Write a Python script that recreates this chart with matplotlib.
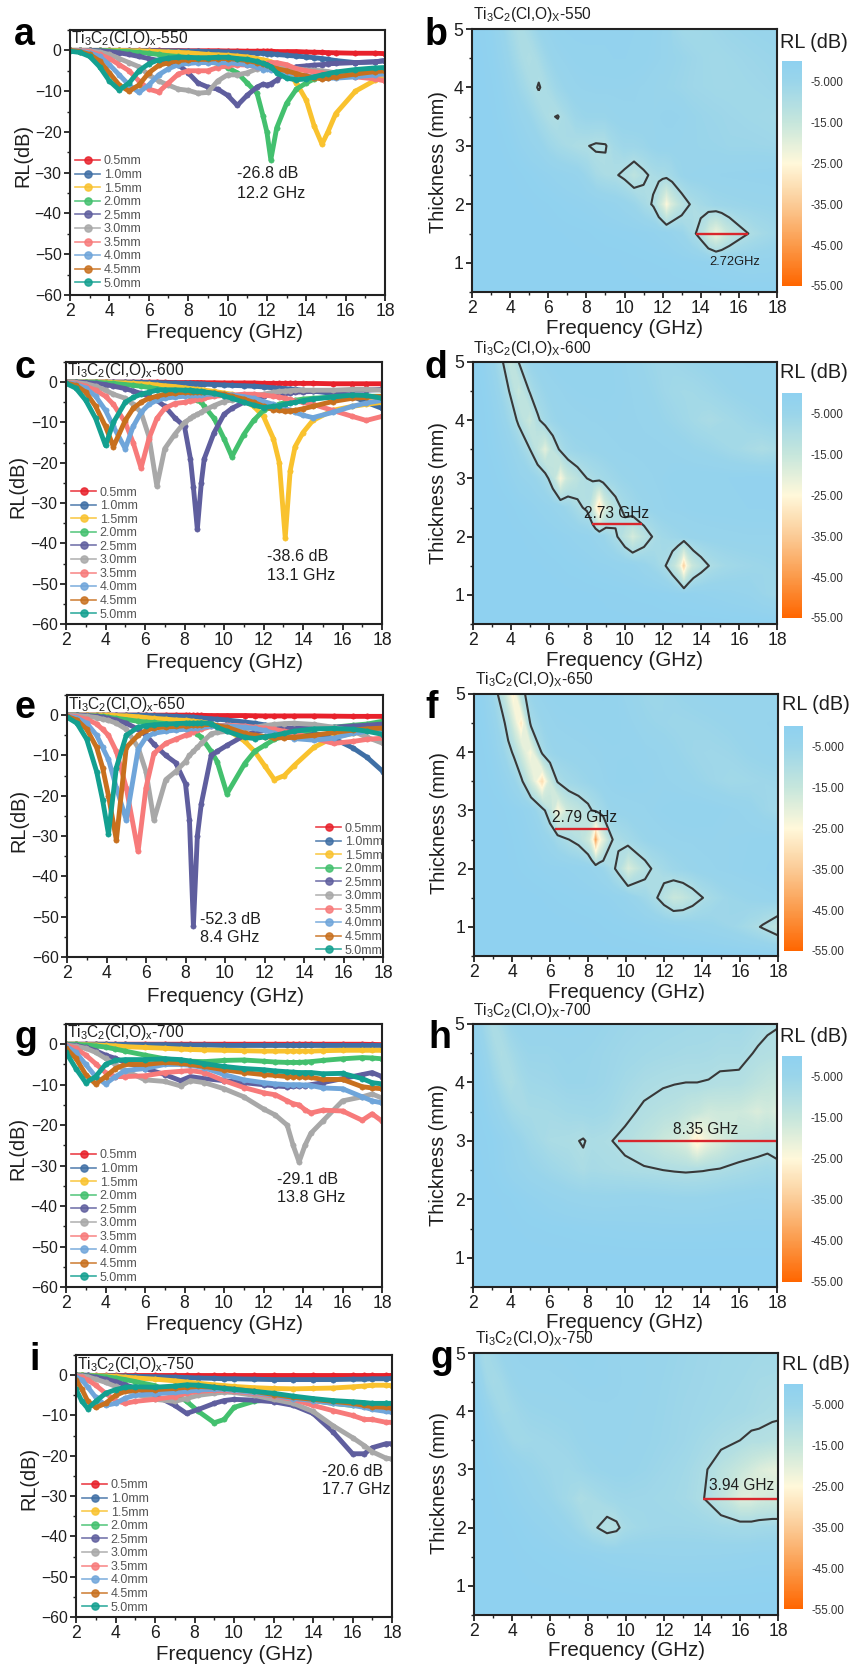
import matplotlib
matplotlib.use('Agg')
import matplotlib.pyplot as plt
import numpy as np
from matplotlib.colors import LinearSegmentedColormap, Normalize
from matplotlib.cm import ScalarMappable
from matplotlib.ticker import MultipleLocator

plt.rcParams['font.family'] = ['Liberation Sans', 'DejaVu Sans']
plt.rcParams['mathtext.fontset'] = 'custom'
plt.rcParams['mathtext.rm'] = 'Liberation Sans'
plt.rcParams['mathtext.default'] = 'regular'

W, H = 851, 1671

thickness = [0.5, 1.0, 1.5, 2.0, 2.5, 3.0, 3.5, 4.0, 4.5, 5.0]
thick_labels = ['0.5mm', '1.0mm', '1.5mm', '2.0mm', '2.5mm', '3.0mm', '3.5mm', '4.0mm', '4.5mm', '5.0mm']
colors = ['#E8212B', '#3F6FA5', '#F9C22E', '#43C06E', '#5F5E9E', '#A8A8A8', '#F77A7A', '#6FA5DA', '#C8701E', '#13A090']
cbar_ticks = [-5, -15, -25, -35, -45, -55]
cbar_labels = ['-5.000', '-15.00', '-25.00', '-35.00', '-45.00', '-55.00']

# 550 C, one row per thickness
freq_550 = [2,2.5,3,3.5,4,4.5,5,5.5,6,6.5,7,7.5,8,8.5,9,9.5,10,10.5,11,11.5,11.8,12,12.2,12.5,13,13.5,14,14.4,14.8,15.1,15.5,16.5,17.5,18]
rl_550 = [
    [0,0,0,0,0,0,0,0,0,0,-0.05,-0.05,-0.1,-0.1,-0.1,-0.1,-0.15,-0.15,-0.2,-0.2,-0.2,-0.2,-0.2,-0.3,-0.3,-0.3,-0.4,-0.45,-0.5,-0.55,-0.6,-0.7,-0.7,-0.8],
    [0,0,0,0,0,0,0,-0.05,-0.05,-0.1,-0.1,-0.15,-0.2,-0.2,-0.3,-0.3,-0.4,-0.5,-0.6,-0.7,-0.75,-0.8,-0.8,-1,-1.2,-1.4,-1.6,-1.8,-2,-2.2,-2.5,-3,-2.8,-2.5],
    [0,0,0,0,0,0,-0.1,-0.1,-0.2,-0.3,-0.4,-0.5,-0.6,-0.8,-1,-1.1,-1.2,-1.4,-1.6,-2,-2.3,-2.5,-2.8,-3.5,-5,-8,-12.2,-18.5,-23,-20,-15.5,-10,-7.3,-6.3],
    [0,0,0,0,-0.1,-0.2,-0.3,-0.5,-0.7,-1,-1.3,-1.5,-1.8,-2.2,-2.7,-3.2,-4.2,-5.5,-8,-10.5,-16,-20,-26.8,-19,-13,-9.5,-8,-7,-6,-5.8,-5.5,-5,-4.6,-4.5],
    [0,0,0,-0.1,-0.3,-0.6,-1,-1.5,-2,-2.5,-3,-3.5,-5.5,-8,-9,-9.5,-11,-13.5,-11,-9,-8.3,-8.5,-8.2,-7.3,-5,-4,-3.8,-3.6,-3.5,-3.3,-3.2,-3,-2.8,-2.5],
    [0,0,-0.1,-0.4,-1,-2,-3,-4,-6,-7.5,-8.5,-9.5,-9.8,-10.5,-10.3,-7.5,-6,-6,-5.5,-4.5,-4,-4,-4,-4,-4.3,-4.5,-4.8,-4.9,-5,-5.2,-5.5,-5.5,-5.8,-6],
    [0,-0.1,-0.3,-1,-2,-3.5,-5,-7.5,-9.5,-10.2,-8,-5.8,-5,-5,-5,-4.2,-3.8,-3.5,-3.6,-4,-3.5,-3.2,-3,-3,-3.5,-4.5,-5,-5.3,-5.5,-5.7,-6,-6.5,-7,-7.5],
    [0,-0.2,-0.6,-1.5,-3.5,-6,-8.5,-10.3,-8.5,-6,-4.5,-3.5,-3.2,-3,-3,-3,-3,-3.2,-3.5,-4,-4.7,-4.5,-4.8,-5,-5.5,-6,-6.3,-6.5,-6.8,-6.8,-6.8,-6.5,-6,-5.5],
    [0,-0.3,-1,-2.6,-5.5,-8.5,-10,-8.5,-5.5,-3.7,-3,-2.5,-2.3,-2.2,-2.2,-2,-2,-2.2,-2.5,-3,-3.3,-3.5,-4,-4.5,-5,-5.7,-6.3,-6.7,-7,-6.8,-6.5,-5.8,-5.2,-5],
    [-0.2,-0.5,-1.5,-4,-7.5,-9.7,-8,-5,-3.3,-2.3,-1.9,-1.7,-1.7,-1.8,-1.8,-1.7,-1.7,-2,-2.2,-2.7,-3.2,-3.5,-4,-5.5,-6.8,-7.2,-7,-6.5,-6,-5.7,-5.3,-4.7,-4.3,-4.2],
]

# 600 C
freq_600 = [2,2.5,3,3.5,4,4.4,5,5.4,5.8,6.2,6.6,7,7.5,8,8.3,8.45,8.65,8.85,9,9.5,10,10.4,11,11.5,12,12.5,12.8,13.1,13.35,13.6,14,14.5,15.5,16.5,17.2,18]
rl_600 = [
    [0,0,0,0,0,0,0,0,0,0,0,-0.05,-0.1,-0.1,-0.1,-0.1,-0.1,-0.1,-0.15,-0.15,-0.2,-0.2,-0.2,-0.2,-0.3,-0.3,-0.3,-0.3,-0.3,-0.3,-0.3,-0.3,-0.4,-0.4,-0.4,-0.4],
    [0,0,0,0,0,0,0,0,-0.05,-0.1,-0.1,-0.2,-0.2,-0.3,-0.3,-0.35,-0.4,-0.45,-0.5,-0.6,-0.7,-0.8,-0.9,-1,-1.2,-1.4,-1.5,-1.6,-1.7,-1.8,-2,-2.2,-2.8,-3.5,-5,-6.5],
    [0,0,0,0,0,-0.1,-0.2,-0.3,-0.4,-0.5,-0.7,-0.9,-1.1,-1.4,-1.6,-1.7,-1.8,-1.9,-2,-2.3,-2.7,-3,-4.5,-6,-8.5,-14,-20,-38.6,-22,-16,-12.5,-9.5,-7,-6,-5.5,-5],
    [0,0,0,0,-0.2,-0.3,-0.6,-0.8,-1,-1.3,-1.6,-2,-2.5,-3,-3.5,-3.9,-4.5,-5,-6,-9,-14,-18.5,-13,-9.5,-7,-6,-5.5,-5,-4.7,-4.5,-4.2,-4,-3.7,-3.5,-3.5,-3.5],
    [0,0,-0.1,-0.3,-0.6,-1,-1.6,-2.2,-2.8,-3.5,-4.5,-6,-8.8,-11,-19,-26,-36.5,-25,-19,-12.5,-8,-6.5,-5,-4.2,-3.5,-3,-2.9,-2.8,-2.6,-2.5,-2.4,-2.3,-2.2,-2,-2,-1.8],
    [0,-0.1,-0.4,-1,-2,-3,-4,-5.5,-7.5,-13.5,-25.8,-16.5,-13,-10,-9,-8.5,-8,-7.5,-7,-5.8,-4.8,-4.4,-3.8,-3.4,-3,-2.5,-2.3,-2.2,-2.1,-2,-2,-2,-2,-1.8,-1.8,-2],
    [0,-0.3,-1,-2,-3.5,-5.5,-10,-15,-21.3,-14,-9,-6.5,-5.3,-5,-4.6,-4.5,-4.3,-4.1,-4,-3.5,-3.3,-3.2,-3,-3,-3.2,-3.5,-3.7,-4,-4.3,-4.7,-5,-5.5,-7,-8.5,-9.5,-8.5],
    [-0.1,-0.5,-1.5,-3.5,-7,-11,-16.5,-11,-7.5,-5.5,-4.5,-4,-3.7,-3.5,-3.3,-3.3,-3.2,-3.1,-3,-3,-3,-3.2,-3.6,-4,-4.8,-5.5,-6,-6.5,-7,-7.5,-8.2,-8.8,-7.5,-6,-5.2,-4.5],
    [-0.2,-0.8,-2.5,-6,-11,-16,-9.5,-6.5,-5,-4,-3.5,-3,-2.7,-2.5,-2.5,-2.5,-2.5,-2.5,-2.5,-2.7,-3,-3.5,-4.2,-5,-6,-6.8,-7,-7.2,-7.1,-7,-6.6,-6,-4.8,-4,-3.8,-3.5],
    [-0.3,-1.5,-4.5,-9,-15.7,-10,-5,-3.8,-3,-2.5,-2,-1.9,-1.9,-2,-2,-2.1,-2.2,-2.3,-2.4,-2.8,-3.4,-4,-5,-5.7,-6.3,-6,-5.8,-5.5,-5.2,-5,-4.6,-4.2,-3.7,-3.2,-3.3,-4],
]

# 650 C
freq_650 = [2,2.5,3,3.5,3.8,4.1,4.5,5,5.6,6,6.4,7,7.5,8,8.2,8.4,8.6,8.8,9.3,9.6,10.1,11,11.5,12,12.5,13,13.5,14.5,15.5,16.5,17.2,18]
rl_650 = [
    [0,0,0,0,0,0,0,0,0,0,0,0,0,0,-0.05,-0.05,-0.05,-0.05,-0.1,-0.1,-0.1,-0.1,-0.15,-0.2,-0.2,-0.2,-0.2,-0.2,-0.25,-0.3,-0.3,-0.3],
    [0,0,0,0,0,0,0,0,0,-0.05,-0.1,-0.2,-0.3,-0.4,-0.45,-0.5,-0.6,-0.7,-0.9,-1,-1.2,-1.7,-2,-2.4,-2.8,-3.2,-3.6,-4.5,-5.8,-8.2,-10.5,-14],
    [0,0,0,0,0,0,-0.1,-0.2,-0.4,-0.6,-0.8,-1,-1.2,-1.3,-1.4,-1.5,-1.6,-1.7,-2.2,-2.6,-3.5,-6.5,-9,-12.5,-16,-15,-12.5,-8,-5.5,-4.5,-4,-3.5],
    [0,0,-0.1,-0.2,-0.3,-0.5,-0.8,-1.1,-1.5,-1.7,-1.8,-2.1,-2.5,-3.2,-3.6,-4,-4.7,-5.5,-9,-11.5,-19.5,-12,-9,-7.5,-6,-5.2,-4.5,-3.5,-3,-2.5,-2.2,-1.5],
    [0,0,-0.1,-0.3,-0.5,-0.8,-1.2,-2,-3.5,-5,-7.2,-10,-11.8,-17,-26,-52.3,-30,-22,-10,-9,-7.5,-5,-4.2,-3.8,-3.5,-3.3,-3.2,-3,-3,-2.7,-2.5,-2.2],
    [0,-0.1,-0.3,-0.6,-1,-1.3,-2,-3.5,-8,-14,-26,-16,-14,-11.5,-10,-9,-8,-7,-4.6,-4.3,-4,-3.5,-3,-2.6,-2.3,-2.1,-2,-2.3,-3,-4,-5.5,-7],
    [-0.1,-0.4,-1,-2.2,-3.5,-5,-9,-18,-33.8,-18,-9.5,-7,-6,-5,-4.6,-4.2,-3.8,-3.5,-2.8,-2.6,-2.5,-2.7,-3,-3.2,-3.5,-4,-4.5,-5.8,-7,-6.5,-6,-5.7],
    [-0.2,-0.7,-2,-5,-8,-11,-18,-26,-8.5,-5.5,-4.5,-4,-3.7,-3.5,-3.3,-3.2,-3.1,-3,-2.8,-2.7,-2.7,-3,-3.3,-3.8,-4.5,-5.2,-5.8,-6.2,-5.7,-4.5,-4,-3.5],
    [-0.3,-1.2,-3.5,-8,-13,-20,-31,-8,-5,-3.8,-3.2,-2.9,-2.8,-2.6,-2.5,-2.5,-2.45,-2.4,-2.3,-2.6,-3,-4.5,-5,-5.3,-5.6,-5.6,-5.5,-5,-4.3,-3.7,-3.4,-3.2],
    [-0.5,-2,-6,-14,-21,-29.5,-13,-5,-3,-2.6,-2.4,-2.2,-2.1,-2,-2,-2,-2,-1.9,-2.1,-3,-4,-5.5,-5.8,-5.4,-5,-4.5,-4,-3.4,-3.3,-3.5,-4,-4.8],
]

# 700 C
freq_700 = [2,2.5,3,3.5,4,4.5,5,6,7,7.8,8.3,9,10,11,12,12.6,13.2,13.5,13.8,14.1,14.4,15,16,17,17.5,18]
rl_700 = [
    [0,0,0,0,0,0,0,0,0,0,0,0,0,0,0,0,0,0,0,0,0,0,0,0,-0.05,-0.1],
    [0,0,0,0,0,-0.05,-0.05,-0.1,-0.1,-0.2,-0.2,-0.2,-0.3,-0.3,-0.3,-0.3,-0.3,-0.3,-0.3,-0.3,-0.3,-0.3,-0.3,-0.3,-0.3,-0.3],
    [0,0,-0.1,-0.2,-0.3,-0.4,-0.6,-0.8,-1,-1.2,-1.3,-1.4,-1.5,-1.6,-1.7,-1.7,-1.7,-1.7,-1.7,-1.7,-1.7,-1.6,-1.5,-1.5,-1.5,-1.5],
    [0,0,-0.2,-0.4,-0.7,-1.2,-1.7,-2.7,-3.6,-4,-4.2,-4.3,-4,-3.9,-4.2,-4.4,-4.5,-4.5,-4.5,-4.4,-4.3,-4,-3.6,-3.3,-3.4,-3.6],
    [-0.1,-0.3,-0.8,-1.6,-2.7,-3.5,-4.5,-6,-7.5,-9,-8,-8.5,-9,-9.5,-10,-10.3,-10.5,-10.4,-10.3,-10.2,-10,-9.5,-8.5,-7.5,-7,-8],
    [-0.2,-0.5,-1,-2,-3.5,-5,-6.5,-8.8,-9.2,-10.3,-9,-9.5,-11,-13,-16,-17.5,-20,-25,-29.1,-25,-22,-19,-14,-13,-12.3,-13.3],
    [-0.3,-1,-2.7,-4.8,-7,-8,-8,-7.8,-7,-6.7,-6.5,-7,-9,-10.7,-12,-12.5,-14,-14.7,-15,-16.2,-17,-16.3,-16.5,-18.8,-17.2,-19],
    [-0.5,-2,-5,-8,-9.8,-8,-6.5,-6,-5,-5,-5.2,-5.8,-7.5,-8.8,-9.5,-9.8,-10,-10,-10,-10.1,-10.2,-10.8,-11,-13,-14,-14.5],
    [-1,-3.5,-7.5,-9.8,-8,-6,-5,-5,-4.5,-4.7,-5,-5.5,-6.3,-7,-7.5,-7.7,-8,-8,-8,-8.1,-8.2,-8.7,-8.7,-10.5,-10.8,-11],
    [-2,-6,-9.5,-8,-5,-4,-3.8,-3.8,-3.6,-3.8,-4.2,-4.8,-5.5,-6,-6.3,-6.6,-6.8,-6.9,-7,-7,-7,-7.3,-7.2,-8.5,-9.5,-9.8],
]

# 750 C
freq_750 = [2,2.3,2.6,3,3.5,4,4.5,5,6,7,7.6,8.2,9,9.5,10,11,12,13,14,15,16,16.6,17,17.7,18]
rl_750 = [
    [0,0,0,0,0,0,0,0,0,0,0,0,0,0,0,0,0,0,0,0,0,0,0,0,0],
    [0,0,0,-0.1,-0.1,-0.2,-0.2,-0.3,-0.4,-0.5,-0.6,-0.7,-0.8,-0.9,-0.9,-1,-1.1,-1.1,-1.1,-1.1,-1,-1,-0.9,-0.9,-0.8],
    [0,0,-0.1,-0.1,-0.2,-0.3,-0.5,-0.7,-1,-1.4,-1.7,-2,-2.4,-2.6,-2.8,-3.1,-3.3,-3.4,-3.3,-3.2,-2.9,-2.7,-2.5,-2.5,-2.6],
    [0,0,-0.1,-0.2,-0.4,-0.7,-1.1,-1.6,-2.6,-4.6,-6.5,-9,-11.8,-11,-8,-6.5,-6,-6,-6.3,-7,-7.5,-7.5,-7.2,-7,-7],
    [0,-0.1,-0.2,-0.5,-1,-1.6,-2.4,-3.2,-5,-7.5,-9.5,-8.5,-7,-6.3,-6,-6.2,-6.6,-7.5,-9.5,-14,-19.5,-19.5,-18,-17,-17],
    [-0.1,-0.2,-0.4,-1,-1.8,-2.8,-3.8,-4.7,-6,-6.5,-5.8,-5,-4.5,-4.2,-4.3,-5,-6,-7,-9,-12.5,-15.5,-17.5,-19,-20.6,-20.8],
    [-0.2,-0.5,-1.2,-2.5,-4.5,-6.3,-7,-6.5,-6,-5.3,-4.5,-4,-3.8,-3.8,-4,-4.5,-5.2,-6,-7.5,-8.8,-10,-11,-11,-11.7,-11.7],
    [-0.5,-1.2,-3,-5.5,-7.5,-7,-5.7,-5,-4.6,-4.3,-4,-3.7,-3.5,-3.5,-3.8,-4.3,-5,-5.8,-6.3,-7,-7.5,-8,-8.5,-9,-9.2],
    [-1.2,-3.5,-6.5,-8,-7,-5,-4,-3.7,-3.6,-3.3,-3,-2.8,-3,-3.2,-3.5,-4,-4.8,-5.5,-6,-6.5,-7,-7.5,-7.8,-8,-8.2],
    [-3.5,-6.5,-8.3,-6.5,-4.5,-3.6,-3,-2.9,-3,-2.7,-2.4,-2.5,-3,-3.3,-3.5,-4,-4.5,-5.2,-5.8,-6.3,-6.6,-6.8,-7,-7,-7],
]

# bandwidth lines: thickness, start, end
band_550 = [1.5, 13.75, 16.5]
band_600 = [2.22, 8.25, 10.9]
band_650 = [2.68, 6.25, 9.05]
band_700 = [3.0, 9.65, 18]
band_750 = [2.5, 14.05, 18]

rl_cmap = LinearSegmentedColormap.from_list('rl', [
    (0.0, '#FF6600'), (10/55, '#FB9A4A'), (20/55, '#FBCB96'), (30/55, '#FFF8DA'),
    (40/55, '#C6E6DC'), (50/55, '#9AD5EA'), (1.0, '#8FD1F0')], N=256)

fig = plt.figure(figsize=(W/100, H/100), dpi=100)
ink = '#1E1E1E'


def fx(x):
    return x / W


def fy(y):
    return 1 - y / H


def make_axes(l, r, t, b):
    return fig.add_axes([fx(l), fy(b), (r-l)/W, (b-t)/H])


def put(x, y, s, **kw):
    kw.setdefault('color', ink)
    kw.setdefault('va', 'center')
    fig.text(fx(x), fy(y), s, **kw)


def frame(ax):
    for sp in ax.spines.values():
        sp.set_linewidth(1.5)
        sp.set_color('#222222')
    ax.set_xlim(2, 18)
    ax.xaxis.set_major_locator(MultipleLocator(2))
    ax.xaxis.set_minor_locator(MultipleLocator(1))
    ax.tick_params(which='major', length=4, width=1.3, color='#222222', pad=2)
    ax.tick_params(which='minor', length=2, width=1.0, color='#222222')
    ax.tick_params(axis='x', labelsize=12.7, labelcolor=ink)


def set_labels(ax, yl, xlab, ylab):
    ax.set_xlabel('Frequency (GHz)', fontsize=14.8, color=ink, va='center')
    ax.xaxis.set_label_coords(fx(xlab[0]), fy(xlab[1]), transform=fig.transFigure)
    ax.set_ylabel(yl, fontsize=14.3, color=ink, va='center')
    ax.yaxis.set_label_coords(fx(ylab[0]), fy(ylab[1]), transform=fig.transFigure)


def curves(box, freq, rl, letter, temp, note, leg, xlab, ylab):
    ax = make_axes(*box)
    for i in range(10):
        ax.plot(freq, rl[i], color=colors[i], lw=3.5, marker='o', ms=3.8,
                mfc=colors[i], mec=colors[i], mew=0.4, solid_joinstyle='round')
    ax.set_ylim(-60, 5)
    ax.yaxis.set_major_locator(MultipleLocator(10))
    ax.yaxis.set_minor_locator(MultipleLocator(5))
    frame(ax)
    ax.tick_params(axis='y', labelsize=11.3, labelcolor=ink)
    set_labels(ax, 'RL(dB)', xlab, ylab)

    # legend
    handles = []
    for i in range(10):
        h, = ax.plot([], [], color=colors[i], lw=1.2, alpha=0.85, marker='o', ms=5.2, mec=colors[i])
        handles.append(h)
    ax.legend(handles, thick_labels, loc='upper left', frameon=False, fontsize=9,
              bbox_to_anchor=(fx(leg[0]), fy(leg[1])), bbox_transform=fig.transFigure,
              borderpad=0, borderaxespad=0, labelspacing=0.125, handlelength=2.0,
              handletextpad=0.3, labelcolor='#555555')

    put(box[0]+1, box[2]+9, 'Ti$_3$C$_2$(Cl,O)$_x$-' + temp, fontsize=11.2)
    put(note[0], note[1], note[2], fontsize=11.6)
    put(note[0], note[1]+19, note[3], fontsize=11.6)
    put(letter[1], letter[2], letter[0], fontsize=27, fontweight='bold', va='baseline', color='black')
    return ax


def heat(box, cbar, freq, rl, band, letter, temp, title_xy, band_txt, rl_xy, xlab, ylab):
    ax = make_axes(*box)
    X, Y = np.meshgrid(freq, thickness)
    Z = np.array(rl, dtype=float)
    cs = ax.contourf(X, Y, Z, levels=np.linspace(-60, 1, 184), cmap=rl_cmap, norm=Normalize(-55, 0))
    cs.set_edgecolor('face')
    ax.contour(X, Y, Z, levels=[-10], colors='#383838', linewidths=1.5, linestyles='solid')
    ax.plot([band[1], band[2]], [band[0], band[0]], color='#D8262C', lw=1.7, solid_capstyle='butt')
    ax.set_ylim(0.5, 5)
    ax.yaxis.set_major_locator(MultipleLocator(1))
    ax.yaxis.set_minor_locator(MultipleLocator(0.5))
    frame(ax)
    ax.tick_params(axis='y', labelsize=12.7, labelcolor=ink)
    set_labels(ax, 'Thickness (mm)', xlab, ylab)

    # each bar needs its own norm, a shared one resets the earlier bars' labels
    cax = make_axes(*cbar)
    cb = fig.colorbar(ScalarMappable(norm=Normalize(-55, 0), cmap=rl_cmap), cax=cax)
    cb.outline.set_visible(False)
    cb.set_ticks(cbar_ticks, labels=cbar_labels)
    cb.ax.tick_params(length=0, pad=6, labelsize=8.3, labelcolor='#333333')

    put(title_xy[0], title_xy[1], 'Ti$_3$C$_2$(Cl,O)$_X$-' + temp, fontsize=11.2)
    put(band_txt[0], band_txt[1], band_txt[2], fontsize=band_txt[3])
    put(rl_xy[0], rl_xy[1], 'RL (dB)', fontsize=14.3)
    put(letter[1], letter[2], letter[0], fontsize=27, fontweight='bold', va='baseline', color='black')
    return ax


curves((70, 385, 30, 295), freq_550, rl_550, ('a', 14, 45), '550',
       (237, 174, '-26.8 dB', '12.2 GHz'), (75, 155.5), (224, 333), (23, 155))
heat((472, 777, 29, 292), (782, 802, 61, 286), freq_550, rl_550, band_550, ('b', 425, 45), '550',
     (473, 15), (709, 262, '2.72GHz', 9.3), (780, 42), (625, 328), (438, 162))

curves((66, 382, 362, 624), freq_600, rl_600, ('c', 14, 378), '600',
       (267, 556, '-38.6 dB', '13.1 GHz'), (71, 486.5), (224, 663), (18, 486))
heat((473, 777, 362, 624), (782, 802, 393, 618), freq_600, rl_600, band_600, ('d', 425, 378), '600',
     (473, 348), (584, 513, '2.73 GHz', 11.2), (780, 373), (625, 660), (438, 493))

curves((67, 383, 695, 957), freq_650, rl_650, ('e', 14, 718), '650',
       (200, 919, '-52.3 dB', '8.4 GHz'), (316, 822.5), (225, 997), (19, 820))
heat((474, 778, 694, 956), (784, 803, 726, 951), freq_650, rl_650, band_650, ('f', 425, 718), '650',
     (475, 680), (552, 818, '2.79 GHz', 11.2), (782, 705), (627, 993), (440, 823))

curves((66, 382, 1024, 1287), freq_700, rl_700, ('g', 14, 1048), '700',
       (277, 1179, '-29.1 dB', '13.8 GHz'), (71, 1149.5), (224, 1325), (18, 1148))
heat((473, 777, 1024, 1287), (782, 802, 1056, 1282), freq_700, rl_700, band_700, ('h', 428, 1048), '700',
     (473, 1011), (673, 1129, '8.35 GHz', 11.2), (780, 1036), (625, 1323), (438, 1155))

curves((76, 392, 1355, 1617), freq_750, rl_750, ('i', 29, 1370), '750',
       (322, 1471, '-20.6 dB', '17.7 GHz'), (82, 1479.5), (234, 1655), (29, 1478))
heat((474, 778, 1353, 1615), (784, 803, 1384, 1609), freq_750, rl_750, band_750, ('g', 431, 1368), '750',
     (475, 1338), (709, 1485, '3.94 GHz', 11.2), (782, 1364), (627, 1651), (440, 1483))

fig.savefig('out.png', dpi=100)
